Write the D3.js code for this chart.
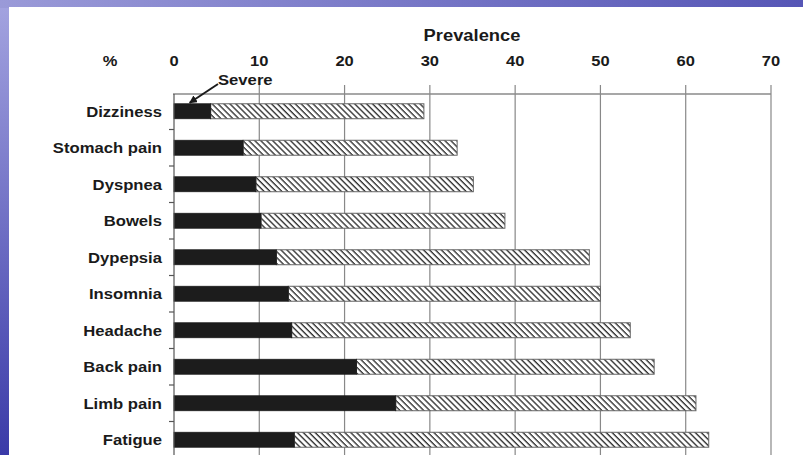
<!DOCTYPE html>
<html>
<head>
<meta charset="utf-8">
<script src="https://cdn.jsdelivr.net/npm/d3@7"></script>
<style>
  body { margin: 0; padding: 0; overflow: hidden; }
  svg text { font-family: "Liberation Sans", Arial, sans-serif; font-weight: bold; fill: #1a1a1a; }
</style>
</head>
<body>
<svg id="chart" width="803" height="455"></svg>
<script>
// symptoms, top to bottom
const symptoms = ["Dizziness", "Stomach pain", "Dyspnea", "Bowels", "Dypepsia",
                  "Insomnia", "Headache", "Back pain", "Limb pain", "Fatigue"];
// severe prevalence (%)
const severe = [4.3, 8.1, 9.6, 10.2, 12.0, 13.4, 13.8, 21.4, 26.0, 14.1];
// total prevalence (%)
const total = [29.3, 33.2, 35.1, 38.8, 48.7, 50.0, 53.5, 56.3, 61.2, 62.7];
// x ticks
const xTicks = [0, 10, 20, 30, 40, 50, 60, 70];

const drawChart = function () {
    let svg = d3.select("#chart");
    let width = +svg.attr("width");
    let height = +svg.attr("height");

    let defs = svg.append("defs");

    // blue slide background
    let bg = defs.append("linearGradient").attr("id", "bg")
        .attr("x1", 0).attr("y1", 0).attr("x2", 0).attr("y2", 1);
    bg.append("stop").attr("offset", "0%").attr("stop-color", "#a4a4e0");
    bg.append("stop").attr("offset", "100%").attr("stop-color", "#3a3aa8");

    let topStrip = defs.append("linearGradient").attr("id", "topStrip")
        .attr("x1", 0).attr("y1", 0).attr("x2", 1).attr("y2", 0);
    topStrip.append("stop").attr("offset", "0%").attr("stop-color", "#9a9ad8");
    topStrip.append("stop").attr("offset", "100%").attr("stop-color", "#5656b6");

    // hatch for the non severe part
    let hatch = defs.append("pattern").attr("id", "hatch")
        .attr("patternUnits", "userSpaceOnUse")
        .attr("width", 4.2).attr("height", 4.2)
        .attr("patternTransform", "rotate(-45)");
    hatch.append("rect").attr("width", 4.2).attr("height", 4.2).attr("fill", "white");
    hatch.append("line").attr("x1", 1).attr("y1", 0).attr("x2", 1).attr("y2", 4.2)
        .attr("stroke", "#333").attr("stroke-width", 1.4);

    svg.append("rect").attr("width", width).attr("height", height).attr("fill", "url(#bg)");
    svg.append("rect").attr("width", width).attr("height", 8).attr("fill", "url(#topStrip)");

    // white panel
    svg.append("rect").attr("x", 9).attr("y", 7)
        .attr("width", width - 9).attr("height", height - 7).attr("fill", "white");

    // scales
    let x = d3.scaleLinear().domain([0, 70]).range([174, 771]);
    let y = d3.scaleBand().domain(symptoms).range([93, 458])
        .paddingInner(0.59).paddingOuter(0.295);
    let gap = (y.step() - y.bandwidth()) / 2;

    // vertical grid lines
    svg.append("g").selectAll("line.grid").data(xTicks.slice(1))
        .join("line")
        .attr("class", "grid")
        .attr("x1", d => x(d)).attr("x2", d => x(d))
        .attr("y1", 85).attr("y2", height)
        .attr("stroke", "#888").attr("stroke-width", 1.2);

    // top line
    svg.append("line")
        .attr("x1", x(0) - 1).attr("x2", x(70))
        .attr("y1", 94).attr("y2", 94)
        .attr("stroke", "#8a8a8a").attr("stroke-width", 1.6);

    // tick labels
    svg.append("g").selectAll("text.tick").data(xTicks)
        .join("text")
        .attr("class", "tick")
        .attr("text-anchor", "middle")
        .attr("font-size", 15)
        .attr("transform", d => `translate(${x(d)},66) scale(1.1,1)`)
        .text(d => d);

    svg.append("text")
        .attr("text-anchor", "middle")
        .attr("font-size", 15)
        .attr("transform", "translate(110,66) scale(1.1,1)")
        .text("%");

    svg.append("text")
        .attr("text-anchor", "middle")
        .attr("font-size", 17)
        .attr("transform", "translate(472,41) scale(1.08,1)")
        .text("Prevalence");

    // bars: hatched total, then black severe on top
    let rows = symptoms.map((s, i) => ({ name: s, severe: severe[i], total: total[i] }));

    svg.append("g").selectAll("rect.total").data(rows)
        .join("rect")
        .attr("class", "total")
        .attr("x", d => x(d.severe))
        .attr("y", d => y(d.name))
        .attr("width", d => x(d.total) - x(d.severe))
        .attr("height", y.bandwidth())
        .attr("fill", "url(#hatch)")
        .attr("stroke", "#666").attr("stroke-width", 1);

    svg.append("g").selectAll("rect.severe").data(rows)
        .join("rect")
        .attr("class", "severe")
        .attr("x", x(0))
        .attr("y", d => y(d.name))
        .attr("width", d => x(d.severe) - x(0))
        .attr("height", y.bandwidth())
        .attr("fill", "#1c1c1c")
        .attr("stroke", "#1c1c1c").attr("stroke-width", 0.8);

    // left axis with ticks between categories
    svg.append("line")
        .attr("x1", x(0)).attr("x2", x(0))
        .attr("y1", 94).attr("y2", height)
        .attr("stroke", "#555").attr("stroke-width", 1.2);

    svg.append("g").selectAll("line.ytick").data(symptoms.slice(1))
        .join("line")
        .attr("class", "ytick")
        .attr("x1", x(0) - 5).attr("x2", x(0))
        .attr("y1", d => y(d) - gap).attr("y2", d => y(d) - gap)
        .attr("stroke", "#555").attr("stroke-width", 1.2);

    // category labels
    svg.append("g").selectAll("text.cat").data(symptoms)
        .join("text")
        .attr("class", "cat")
        .attr("text-anchor", "end")
        .attr("font-size", 14)
        .attr("transform", d => `translate(162,${y(d) + y.bandwidth() / 2 + 5.5}) scale(1.19,1)`)
        .text(d => d);

    // "Severe" annotation with arrow
    defs.append("marker").attr("id", "arrow")
        .attr("viewBox", "0 0 10 10").attr("refX", 9).attr("refY", 5)
        .attr("markerWidth", 4).attr("markerHeight", 4)
        .attr("orient", "auto")
        .append("path").attr("d", "M0,0L10,5L0,10Z").attr("fill", "#1a1a1a");

    svg.append("text")
        .attr("font-size", 14)
        .attr("transform", "translate(218,85) scale(1.19,1)")
        .text("Severe");

    svg.append("line")
        .attr("x1", 218).attr("y1", 84)
        .attr("x2", x(severe[0]) - 21).attr("y2", y(symptoms[0]) - 1)
        .attr("stroke", "#1a1a1a").attr("stroke-width", 2)
        .attr("marker-end", "url(#arrow)");
}
drawChart();
</script>
</body>
</html>
